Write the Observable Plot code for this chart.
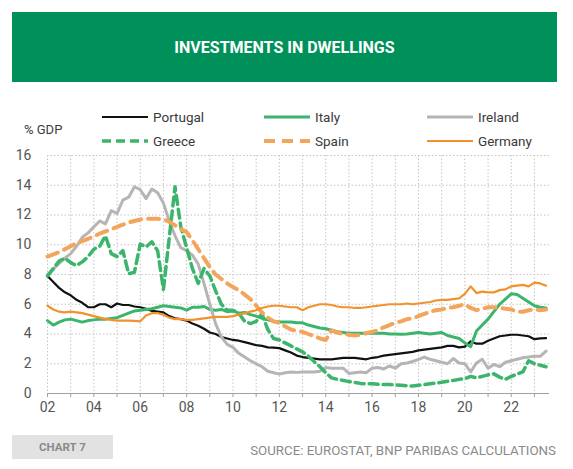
<!DOCTYPE html>
<html><head><meta charset="utf-8">
<script src="https://cdn.jsdelivr.net/npm/d3@7"></script>
<script src="https://cdn.jsdelivr.net/npm/@observablehq/plot@0.6"></script>
<style>
body{margin:0;background:#fff;font-family:Roboto,"Noto Sans",sans-serif;}
#page{position:relative;width:573px;height:469px;overflow:hidden;background:#fff;}
#header{position:absolute;left:12px;top:12px;width:545px;height:70px;background:#00915a;color:#fff;font-weight:700;font-size:16px;display:flex;align-items:center;justify-content:center;}
.leg{position:absolute;height:16px;display:flex;align-items:center;font-size:13.5px;color:#3a3a3a;}
.leg svg{margin-right:5px;}
#unit{position:absolute;left:24px;top:122px;font-size:13px;color:#3a3a3a;}
#plot{position:absolute;left:0;top:140px;}
#chartno{position:absolute;left:12px;top:435px;width:101px;height:24px;background:#e2e2e2;color:#8a8a8a;font-weight:700;font-size:11.5px;display:flex;align-items:center;justify-content:center;}
#source{position:absolute;right:17px;top:443px;font-size:13.3px;color:#8a8a8a;white-space:nowrap;}
</style></head>
<body><div id="page">
<div id="header">INVESTMENTS IN DWELLINGS</div>
<div id="legend"></div>
<div id="unit">% GDP</div>
<div id="plot"></div>
<div id="chartno">CHART 7</div>
<div id="source">SOURCE: EUROSTAT, BNP PARIBAS CALCULATIONS</div>
</div>
<script>
// Quarterly observations, 2002 Q1 .. 2023 Q3
const startYear = 2002;
const yearTicks = d3.range(2002, 2024);
const yTicks = [0, 2, 4, 6, 8, 10, 12, 14, 16];

const portugal = [
 7.9,7.5,7.1,6.8, 6.6,6.3,6.1,5.8, 5.8,6.0,6.0,5.8, 6.05,5.95,5.95,5.85,
 5.8,5.7,5.55,5.5, 5.45,5.2,5.05,5.0, 4.9,4.7,4.55,4.35, 4.1,4.0,3.8,3.7,
 3.6,3.55,3.45,3.35, 3.25,3.2,3.1,3.08, 3.05,2.9,2.75,2.55, 2.45,2.4,2.35,2.3,
 2.3,2.3,2.35,2.4, 2.4,2.4,2.35,2.3, 2.4,2.45,2.55,2.6, 2.65,2.7,2.75,2.8,
 2.9,2.95,3.0,3.05, 3.1,3.2,3.2,3.1, 3.15,3.5,3.35,3.35, 3.55,3.7,3.85,3.9,
 3.95,3.95,3.9,3.85, 3.65,3.7,3.72];
const italy = [
 4.9,4.6,4.8,4.95, 5.0,4.9,4.8,4.9, 4.95,5.0,5.0,5.05, 5.1,5.25,5.4,5.55,
 5.6,5.65,5.7,5.8, 5.9,5.85,5.8,5.75, 5.6,5.8,5.8,5.85, 5.65,5.6,5.65,5.5,
 5.55,5.4,5.45,5.3, 5.2,5.05,4.95,4.85, 4.8,4.8,4.8,4.75, 4.75,4.6,4.5,4.4,
 4.35,4.25,4.15,4.1, 4.05,4.05,4.05,4.05, 4.05,4.05,4.05,4.0, 4.0,3.98,4.0,4.05,
 4.1,4.05,4.0,4.05, 4.1,3.9,3.8,3.7, 3.4,3.15,4.2,4.6, 5.0,5.5,6.0,6.35,
 6.7,6.65,6.4,6.15, 5.9,5.8,5.75];
const ireland = [
 8.0,8.35,8.75,9.1, 9.4,9.9,10.5,10.8, 11.2,11.6,11.4,12.3, 12.1,13.0,13.2,13.9,
 13.7,13.1,13.75,13.5, 12.8,11.6,10.6,9.8, 9.6,9.3,8.7,7.4, 6.0,4.7,3.8,3.3,
 3.1,2.7,2.45,2.2, 2.0,1.8,1.5,1.4, 1.3,1.4,1.45,1.42, 1.45,1.45,1.45,1.5,
 1.75,1.7,1.7,1.7, 1.35,1.4,1.45,1.4, 1.7,1.75,1.65,1.85, 1.7,2.0,2.05,2.15,
 2.3,2.45,2.3,2.2, 2.1,2.0,2.35,2.05, 2.0,1.45,2.05,2.3, 1.7,1.95,1.8,2.1,
 2.2,2.3,2.4,2.45, 2.5,2.5,2.85];
const greece = [
 7.9,8.4,8.9,9.1, 8.8,8.6,8.85,9.2, 9.7,9.9,10.6,9.4, 9.2,9.6,8.05,8.15,
 10.05,9.85,10.2,9.6, 7.0,10.45,13.9,11.2, 9.8,8.4,7.4,8.4, 7.9,6.9,6.0,5.6,
 5.6,5.4,4.85,4.7, 4.85,5.35,4.3,3.7, 3.6,3.4,3.2,3.0, 2.8,2.5,2.15,1.8,
 1.4,1.05,0.95,0.88, 0.8,0.75,0.68,0.65, 0.65,0.62,0.6,0.6, 0.58,0.55,0.52,0.5,
 0.55,0.6,0.65,0.7, 0.75,0.82,0.88,0.95, 1.0,1.15,1.05,1.15, 1.25,1.32,1.1,0.95,
 1.15,1.3,1.45,2.2, 2.0,1.9,1.8];
const spain = [
 9.2,9.35,9.5,9.7, 9.9,10.1,10.25,10.4, 10.55,10.75,10.9,11.05, 11.2,11.35,11.5,11.6,
 11.7,11.75,11.75,11.75, 11.7,11.55,11.3,11.05, 10.85,10.3,9.7,9.1, 8.5,8.0,7.7,7.4,
 7.15,6.95,6.65,6.35, 5.9,5.45,5.1,4.85, 4.75,4.5,4.3,4.2, 4.15,4.0,3.85,3.7,
 3.6,4.25,4.1,4.0, 3.95,3.9,3.95,4.05, 4.15,4.25,4.45,4.6, 4.75,4.85,5.0,5.05,
 5.2,5.35,5.5,5.6, 5.65,5.75,5.8,5.9, 6.0,5.75,5.6,5.7, 5.8,5.8,5.75,5.7,
 5.65,5.5,5.5,5.6, 5.65,5.6,5.65];
const germany = [
 5.9,5.65,5.5,5.45, 5.5,5.45,5.4,5.3, 5.2,5.1,5.0,4.95, 4.9,4.9,4.9,4.88,
 4.85,5.25,5.4,5.4, 5.3,5.1,5.0,5.0, 4.95,4.95,5.0,5.05, 5.1,5.15,5.15,5.15,
 5.2,5.3,5.4,5.5, 5.6,5.75,5.85,5.9, 5.9,5.85,5.8,5.8, 5.6,5.8,5.9,6.0,
 6.0,5.95,5.85,5.8, 5.8,5.75,5.75,5.8, 5.85,5.9,5.95,6.0, 6.0,6.0,6.05,6.0,
 6.05,6.1,6.15,6.25, 6.3,6.3,6.35,6.4, 6.7,7.2,6.75,6.85, 6.8,6.8,6.95,7.0,
 7.2,7.25,7.3,7.2, 7.45,7.4,7.25];

const seriesNames = ["Portugal","Italy","Ireland","Greece","Spain","Germany"];
const seriesValues = [portugal, italy, ireland, greece, spain, germany];
const styles = {
  Portugal:{stroke:"#111111", width:2.2, dash:null},
  Italy:{stroke:"#3bb56c", width:3, dash:null},
  Ireland:{stroke:"#b5b5b5", width:3, dash:null},
  Greece:{stroke:"#3bb56c", width:3.5, dash:"9,5"},
  Spain:{stroke:"#f3a55b", width:4, dash:"11,7"},
  Germany:{stroke:"#f2922c", width:2.2, dash:null}
};

// Legend (HTML, above the SVG)
const legendPos = {
  Portugal:[102,109], Italy:[264,109], Ireland:[427,109],
  Greece:[102,133], Spain:[264,133], Germany:[427,133]
};
const legend = document.getElementById("legend");
for (const name of seriesNames) {
  const s = styles[name];
  const [lx, ly] = legendPos[name];
  const div = document.createElement("div");
  div.className = "leg";
  div.style.left = lx + "px";
  div.style.top = ly + "px";
  div.innerHTML = `<svg width="46" height="10"><line x1="0" x2="46" y1="5" y2="5" stroke="${s.stroke}" stroke-width="${s.width}" ${s.dash ? `stroke-dasharray="${s.dash}"` : ""}/></svg><span>${name}</span>`;
  legend.appendChild(div);
}

const lineMarks = seriesNames.map((name, k) => {
  const s = styles[name];
  const data = seriesValues[k].map((v, i) => ({t: startYear + i / 4, v}));
  return Plot.lineY(data, {x:"t", y:"v", stroke:s.stroke, strokeWidth:s.width,
    strokeDasharray:s.dash ?? undefined, strokeLinejoin:"round"});
});

const chart = Plot.plot({
  width: 573,
  height: 285,
  marginTop: 15,
  marginBottom: 32,
  marginLeft: 47,
  marginRight: 24,
  style: {fontFamily:"Roboto, sans-serif", fontSize:"14px", color:"#555", background:"transparent", overflow:"visible"},
  x: {domain:[2002, 2023.65]},
  y: {domain:[0, 16]},
  marks: [
    Plot.gridY(yTicks.slice(1), {stroke:"#c4c4c4", strokeOpacity:1, strokeDasharray:"1.5,2"}),
    Plot.gridX(yearTicks, {stroke:"#c4c4c4", strokeOpacity:1, strokeDasharray:"1.5,2"}),
    Plot.ruleY([0], {stroke:"#a0a0a0", strokeWidth:1.2}),
    Plot.axisX(yearTicks, {tickSize:4, tickPadding:5, stroke:"#a0a0a0", label:null,
      tickFormat: d => d % 2 === 0 ? String(d).slice(2) : ""}),
    Plot.axisY(yTicks, {tickSize:0, tickPadding:16, label:null}),
    ...lineMarks
  ]
});
document.getElementById("plot").appendChild(chart);
</script>
</body></html>
